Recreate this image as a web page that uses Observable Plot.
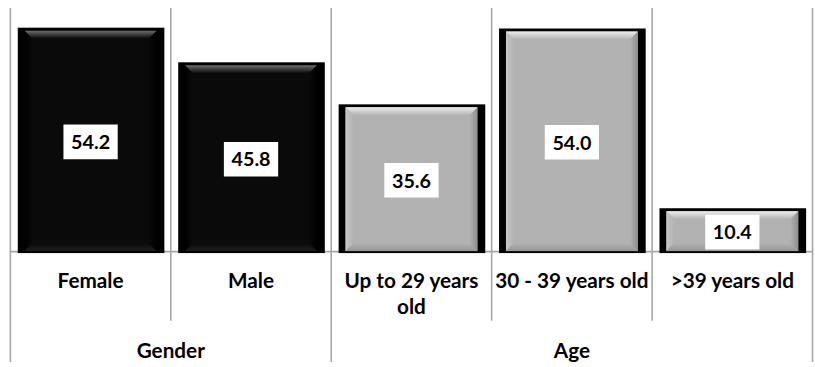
<!DOCTYPE html>
<html>
<head>
<meta charset="utf-8">
<script src="https://cdn.jsdelivr.net/npm/d3@7"></script>
<script src="https://cdn.jsdelivr.net/npm/@observablehq/plot@0.6"></script>
<style>
  html, body { margin: 0; padding: 0; background: #fff; overflow: hidden; }
</style>
</head>
<body>
<div id="chart"></div>
<script>
// Share of respondents (%) by gender and by age band
const categories = ["Female", "Male", "Up to 29 years\nold", "30 - 39 years old", ">39 years old"];
const values = [54.2, 45.8, 35.6, 54.0, 10.4];
const groups = ["Gender", "Gender", "Age", "Age", "Age"];
const groupNames = ["Gender", "Age"];

const rows = categories.map((label, i) => ({i, label, value: values[i], group: groups[i]}));

// Column edges: outer edges of each group, and the dividers inside a group
const groupEdges = [0];
const innerEdges = [];
for (let i = 1; i < categories.length; i++) (groups[i] !== groups[i - 1] ? groupEdges : innerEdges).push(i);
groupEdges.push(categories.length);

const groupRows = groupNames.map((group) => {
  const idx = rows.filter((r) => r.group === group).map((r) => r.i);
  return {group, mid: (d3.min(idx) + d3.max(idx) + 1) / 2};
});

// Bar looks: Gender bars are black, Age bars are grey, both with a bevelled face
const looks = {
  Gender: {face: "#0a0a0a", top: ["#6e6e6e", "#0a0a0a"], left: ["#000000", "#0a0a0a"], right: ["#000000", "#0a0a0a"], bottom: ["#1e1e1e", "#0a0a0a"]},
  Age: {face: "#b2b2b2", top: ["#ececec", "#b4b4b4"], left: ["#c6c6c6", "#b2b2b2"], right: ["#8e8e8e", "#b2b2b2"], bottom: ["#979797", "#b2b2b2"]}
};

const barInsetLeft = 8, barInsetRight = 6;
const faceLeft = 7, faceRight = 8, faceTop = 3, bevel = 8;

function bevels(index, scales) {
  const {x, y} = scales;
  const g = d3.create("svg:g");
  const defs = g.append("defs");
  const gradient = (id, [x1, y1, x2, y2], [c0, c1]) => {
    const lg = defs.append("linearGradient").attr("id", id)
      .attr("x1", x1).attr("y1", y1).attr("x2", x2).attr("y2", y2);
    lg.append("stop").attr("offset", 0).attr("stop-color", c0);
    lg.append("stop").attr("offset", 1).attr("stop-color", c1);
  };
  const dirs = {top: [0, 0, 0, 1], left: [0, 0, 1, 0], right: [1, 0, 0, 0], bottom: [0, 1, 0, 0]};
  for (const [name, look] of Object.entries(looks)) {
    for (const side of Object.keys(dirs)) gradient(`bev-${name}-${side}`, dirs[side], look[side]);
  }
  for (const r of rows) {
    const x0 = x(r.i) + barInsetLeft + faceLeft;
    const x1 = x(r.i + 1) - barInsetRight - faceRight;
    const t = y(r.value) + faceTop;
    const b = y(0);
    const shapes = {
      top: [[x0, t], [x1, t], [x1 - bevel, t + bevel], [x0 + bevel, t + bevel]],
      left: [[x0, t], [x0 + bevel, t + bevel], [x0 + bevel, b - bevel], [x0, b]],
      right: [[x1, t], [x1, b], [x1 - bevel, b - bevel], [x1 - bevel, t + bevel]],
      bottom: [[x0, b], [x0 + bevel, b - bevel], [x1 - bevel, b - bevel], [x1, b]]
    };
    for (const side of ["left", "right", "bottom", "top"]) {
      g.append("polygon")
        .attr("points", shapes[side].map((p) => p.join(",")).join(" "))
        .attr("fill", `url(#bev-${r.group}-${side})`);
    }
  }
  return g.node();
}

// Fixed-size white label box drawn as a custom dot symbol
const labelBox = {draw(context) { context.rect(-27.5, -17.5, 55, 35); }};

const chart = Plot.plot({
  width: 826,
  height: 367,
  marginLeft: 10,
  marginRight: 3,
  marginTop: 8,
  marginBottom: 112.5,
  x: {type: "linear", domain: [0, categories.length], axis: null},
  y: {domain: [0, 59], axis: null},
  style: {fontFamily: "Lato, 'Open Sans', sans-serif", fontSize: "20px", background: "#fff", overflow: "visible"},
  marks: [
    // Dividers between categories and between groups
    Plot.ruleX(innerEdges, {x: (d) => d, stroke: "#a6a6a6", strokeWidth: 1.6, insetBottom: -70.5}),
    Plot.ruleX(groupEdges, {x: (d) => d, stroke: "#a6a6a6", strokeWidth: 1.6, insetBottom: -112.5}),
    Plot.ruleY([0], {stroke: "#a6a6a6", strokeWidth: 1.6}),
    // Bars: black outline, then the coloured face
    Plot.rectY(rows, {x1: "i", x2: (d) => d.i + 1, y: "value", fill: "#000",
      insetLeft: barInsetLeft, insetRight: barInsetRight, insetBottom: -2}),
    Plot.rectY(rows, {x1: "i", x2: (d) => d.i + 1, y: "value", fill: (d) => looks[d.group].face,
      insetLeft: barInsetLeft + faceLeft, insetRight: barInsetRight + faceRight, insetTop: faceTop}),
    bevels,
    // Value labels in white boxes
    Plot.dot(rows, {x: (d) => d.i + 0.5, y: (d) => d.value / 2, dy: 2, symbol: labelBox, r: 10, fill: "#fff", stroke: null}),
    Plot.text(rows, {x: (d) => d.i + 0.5, y: (d) => d.value / 2, dy: 3, text: (d) => d.value.toFixed(1),
      fill: "#000", fontWeight: "bold", fontSize: 20, lineAnchor: "middle"}),
    // Category labels
    Plot.text(rows, {x: (d) => d.i + 0.5, y: 0, text: "label", dy: 17.3, lineAnchor: "top", lineHeight: 1.286,
      fill: "#000", fontWeight: "bold", fontSize: 21}),
    // Group labels
    Plot.text(groupRows, {x: "mid", y: 0, text: "group", dy: 107.5, lineAnchor: "bottom",
      fill: "#000", fontWeight: "bold", fontSize: 21})
  ]
});

document.getElementById("chart").appendChild(chart);
</script>
</body>
</html>
